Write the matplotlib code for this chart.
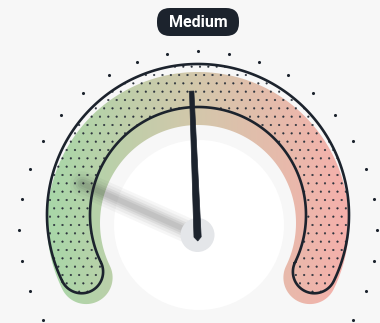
import numpy as np
import matplotlib
matplotlib.use("Agg")
import matplotlib.pyplot as plt
from matplotlib.patches import Polygon, Circle, FancyBboxPatch
from matplotlib.colors import LinearSegmentedColormap

# gauge data
value = 49
v_min, v_max = 0, 100
label = "Medium"
band_colors = ["#a8d7a8", "#d4c7ab", "#f6b0ab"]
n_ticks = 36

BG = "#f7f7f7"
DARK = "#1c232d"
W, H = 380, 323

# geometry (pixel units, y pointing down)
A0, A1 = 206.0, -26.0          # arc start / end angle in degrees
CX, CY = 198, 215              # outline centre
R_IN, R_OUT = 108, 151
FILL_DY = 8                    # sketchy fill offset
PIVOT = (197.5, 235)


def band(cx, cy, r_in, r_out, a0, a1, n=200):
    rm, hw = (r_in + r_out) / 2, (r_out - r_in) / 2
    t = np.radians(np.linspace(a0, a1, n))
    outer = np.c_[cx + r_out * np.cos(t), cy - r_out * np.sin(t)]
    inner = np.c_[cx + r_in * np.cos(t[::-1]), cy - r_in * np.sin(t[::-1])]
    e = np.radians(a1)
    ce = (cx + rm * np.cos(e), cy - rm * np.sin(e))
    p = np.linspace(e, e - np.pi, 40)
    cap_e = np.c_[ce[0] + hw * np.cos(p), ce[1] - hw * np.sin(p)]
    s = np.radians(a0)
    cs = (cx + rm * np.cos(s), cy - rm * np.sin(s))
    p = np.linspace(s + np.pi, s, 40)
    cap_s = np.c_[cs[0] + hw * np.cos(p), cs[1] - hw * np.sin(p)]
    return np.vstack([outer, cap_e, inner, cap_s])


fig = plt.figure(figsize=(W / 100, H / 100), dpi=100, facecolor=BG)
ax = fig.add_axes([0, 0, 1, 1])
ax.set_xlim(0, W)
ax.set_ylim(H, 0)
ax.set_aspect("equal")
ax.axis("off")

# tick dots around the gauge
ta = np.radians(np.arange(n_ticks) * 360 / n_ticks)
ax.scatter(198 + 179 * np.cos(ta), 230 - 179 * np.sin(ta), s=5, color=DARK, lw=0, zorder=2)

# white face
ax.add_patch(Circle((199, 225), 85, color="white", lw=0, zorder=1))

# gradient band (offset fill)
fill_pts = band(CX, CY + FILL_DY, R_IN - 10, R_OUT, A0, A1)
clip = Polygon(fill_pts, closed=True, transform=ax.transData, fc="none", ec="none")
ax.add_patch(clip)
cmap = LinearSegmentedColormap.from_list("g", band_colors)
grad = np.linspace(0, 1, 256)[None, :]
im = ax.imshow(grad, cmap=cmap, extent=(CX - R_OUT, CX + R_OUT, CY + R_OUT, 0),
               aspect="auto", zorder=3, interpolation="bilinear")
im.set_clip_path(clip)
ax.set_xlim(0, W)
ax.set_ylim(H, 0)

# dotted hatch + outline
out_pts = band(CX, CY, R_IN, R_OUT, A0, A1)
plt.rcParams["hatch.linewidth"] = 0.3
ax.add_patch(Polygon(out_pts, closed=True, fill=False, hatch="..", ec="#2a313b", lw=0, zorder=4))
ax.add_patch(Polygon(out_pts, closed=True, fill=False, ec=DARK, lw=1.9, zorder=5))

# needle shadow (soft, built from stacked translucent strokes)
sh = np.radians(156)
sx, sy = PIVOT[0] + 126 * np.cos(sh), PIVOT[1] - 126 * np.sin(sh)
for w, a in [(18, 0.04), (14, 0.05), (10, 0.07), (7, 0.08), (4, 0.08)]:
    ax.plot([PIVOT[0], sx], [PIVOT[1], sy], color="#303030", lw=w, alpha=a,
            solid_capstyle="round", zorder=6)

# pivot
ax.add_patch(Circle(PIVOT, 17, color="#e4e6e9", lw=0, zorder=7))

# needle
ang = np.radians(A0 + (A1 - A0) * (value - v_min) / (v_max - v_min))
L = 144
d = np.array([np.cos(ang), -np.sin(ang)])
n = np.array([-d[1], d[0]])
tip = np.array(PIVOT) + L * d
base = np.array(PIVOT) - 2 * d
needle = [tip + 2.2 * n, base + 3.6 * n, base - 4 * d, base - 3.6 * n, tip - 2.2 * n]
ax.add_patch(Polygon(needle, closed=True, fc=DARK, ec=DARK, lw=0.5, zorder=8))

# label
ax.add_patch(FancyBboxPatch((157, 8), 82, 28, boxstyle="round,pad=0,rounding_size=13",
                            fc=DARK, ec="none", zorder=9))
ax.text(198, 22.5, label, ha="center", va="center", color="white", fontsize=11.5,
        fontweight="bold", family="Roboto", zorder=10)

fig.savefig("out.png", dpi=100, facecolor=BG)
